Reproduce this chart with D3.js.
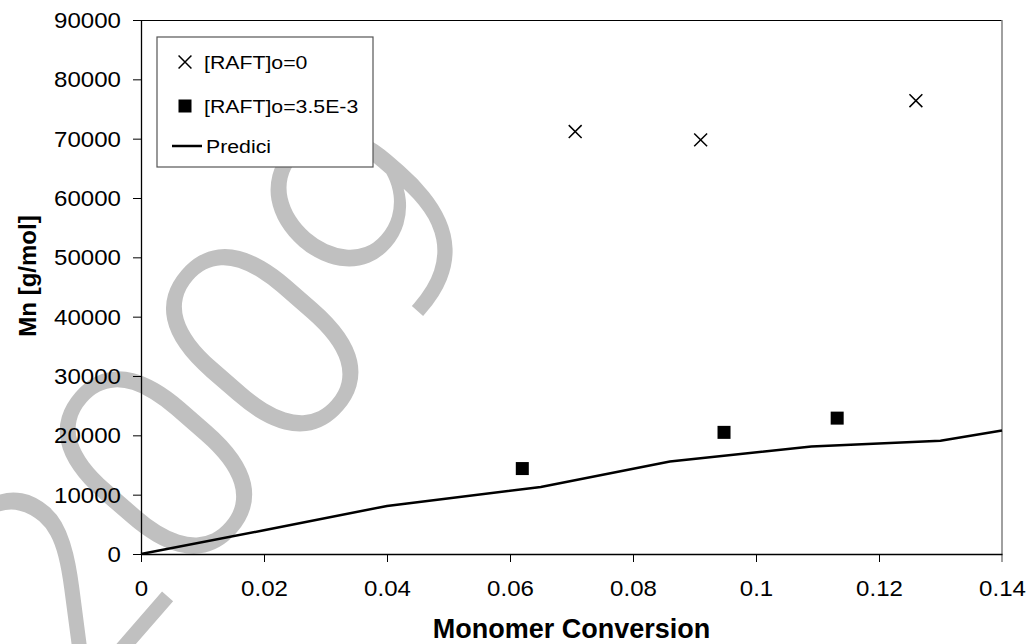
<!DOCTYPE html>
<html>
<head>
<meta charset="utf-8">
<script src="https://cdn.jsdelivr.net/npm/d3@7"></script>
<style>
	body { margin: 0; background: #fff; }
	svg { display: block; font-family: 'Liberation Sans', Arial, sans-serif; }
</style>
</head>
<body>
<div id="chart"></div>
<script>
// measured data (Mn vs conversion)
const raft0X = [0.0706, 0.0910, 0.1260];
const raft0Y = [71200, 69800, 76400];
const raft35X = [0.0620, 0.0948, 0.1132];
const raft35Y = [14400, 20500, 22900];
const prediciX = [0, 0.02, 0.04, 0.065, 0.086, 0.109, 0.13, 0.14];
const prediciY = [0, 4000, 8100, 11300, 15600, 18100, 19100, 20800];
const xTicks = [0, 0.02, 0.04, 0.06, 0.08, 0.1, 0.12, 0.14];
const yTicks = [0, 10000, 20000, 30000, 40000, 50000, 60000, 70000, 80000, 90000];
const legendLabels = ['[RAFT]o=0', '[RAFT]o=3.5E-3', 'Predici'];

const W = 1030, H = 644;
const margin = { top: 20, right: 28, bottom: 90, left: 141 },
	width = W - margin.left - margin.right,
	height = H - margin.top - margin.bottom;

const svgRoot = d3.select('#chart').append('svg').attr('width', W).attr('height', H);

// watermark behind everything
svgRoot.append('text')
	.attr('transform', 'translate(212,404) rotate(-49)')
	.attr('text-anchor', 'middle')
	.attr('dominant-baseline', 'central')
	.style('font-family', 'Roboto, sans-serif')
	.style('font-weight', 300)
	.style('font-size', '292px')
	.style('fill', '#c0c0c0')
	.text('2009');

const svg = svgRoot.append('g').attr('transform', 'translate(' + margin.left + ',' + margin.top + ')');

const x = d3.scaleLinear().domain([0, 0.14]).range([0, width]);
const y = d3.scaleLinear().domain([0, 90000]).range([height, 0]);

// frame: top black, right gray
svg.append('line').attr('x1', 0).attr('x2', width).attr('y1', 0.5).attr('y2', 0.5).style('stroke', '#000');
svg.append('line').attr('x1', width).attr('x2', width).attr('y1', 0).attr('y2', height + 8).style('stroke', '#808080').style('stroke-width', 1.5);

const xAxis = d3.axisBottom(x).tickValues(xTicks).tickSize(8).tickSizeOuter(0).tickFormat(d3.format('~g'));
const yAxis = d3.axisLeft(y).tickValues(yTicks).tickSize(8).tickSizeOuter(0).tickFormat(d3.format('d'));

const gx = svg.append('g').attr('transform', 'translate(0,' + height + ')').call(xAxis);
const gy = svg.append('g').call(yAxis);

[gx, gy].forEach(g => {
	g.select('.domain').style('stroke', '#000').style('stroke-width', 1.3);
	g.selectAll('.tick line').style('stroke', '#000');
	g.selectAll('.tick text').style('font-size', '21.5px').style('fill', '#000').style('font-family', "'Liberation Sans', Arial, sans-serif");
});
gx.selectAll('.tick text').attr('y', 34).attr('dy', '0.35em').attr('transform', 'scale(1.12,1)');
gy.selectAll('.tick text').attr('x', -20 / 1.12).attr('dy', '0.35em').attr('transform', 'scale(1.12,1)');
// last x tick is the gray frame line
gx.selectAll('.tick line').filter(d => d === 0.14).style('stroke', 'none');

// axis titles
svg.append('text')
	.attr('x', width / 2).attr('y', height + 84)
	.attr('text-anchor', 'middle')
	.style('font-weight', 'bold').style('font-size', '27px')
	.text('Monomer Conversion');

svg.append('text')
	.attr('transform', 'translate(' + (27 - margin.left) + ',' + (276 - margin.top) + ') rotate(-90)')
	.attr('text-anchor', 'middle')
	.attr('dominant-baseline', 'central')
	.style('font-weight', 'bold').style('font-size', '24px')
	.text('Mn [g/mol]');

// prediction line
const line = d3.line().x(d => x(d[0])).y(d => y(d[1]));
svg.append('path')
	.datum(d3.zip(prediciX, prediciY))
	.attr('d', line)
	.style('fill', 'none').style('stroke', '#000').style('stroke-width', 2.5);

// [RAFT]o=0 crosses
const cross = d3.symbol().type(d3.symbolTimes).size(110);
svg.selectAll('.cross')
	.data(d3.zip(raft0X, raft0Y))
	.enter().append('path')
	.attr('class', 'cross')
	.attr('d', cross)
	.attr('transform', d => 'translate(' + x(d[0]) + ',' + y(d[1]) + ')')
	.style('fill', 'none').style('stroke', '#000').style('stroke-width', 1.5);

// [RAFT]o=3.5E-3 squares
const sq = 13;
svg.selectAll('.sq')
	.data(d3.zip(raft35X, raft35Y))
	.enter().append('rect')
	.attr('class', 'sq')
	.attr('x', d => x(d[0]) - sq / 2)
	.attr('y', d => y(d[1]) - sq / 2)
	.attr('width', sq).attr('height', sq)
	.style('fill', '#000');

// legend
const legend = svgRoot.append('g').attr('transform', 'translate(157,37)');
legend.append('rect').attr('x', 0).attr('y', 0).attr('width', 216).attr('height', 130)
	.style('fill', '#fff').style('stroke', '#555').style('stroke-width', 1.2);
const rowY = [25, 69, 109];
legend.append('path').attr('d', cross).attr('transform', 'translate(28,' + rowY[0] + ')')
	.style('fill', 'none').style('stroke', '#000').style('stroke-width', 1.5);
legend.append('rect').attr('x', 28 - 6.5).attr('y', rowY[1] - 6.5).attr('width', 13).attr('height', 13).style('fill', '#000');
legend.append('line').attr('x1', 15).attr('x2', 45).attr('y1', rowY[2]).attr('y2', rowY[2]).style('stroke', '#000').style('stroke-width', 2.5);
legend.selectAll('.ltext')
	.data(legendLabels)
	.enter().append('text')
	.attr('class', 'ltext')
	.attr('transform', (d, i) => 'translate(' + (i === 2 ? 49 : 47) + ',' + rowY[i] + ') scale(1.12,1)')
	.attr('dominant-baseline', 'central')
	.style('font-size', '19px')
	.text(d => d);
</script>
</body>
</html>
